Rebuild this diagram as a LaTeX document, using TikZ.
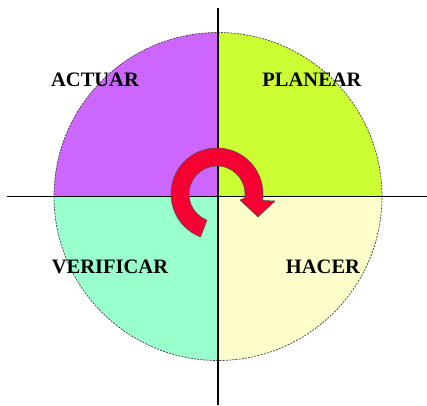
\documentclass[tikz,border=0pt]{standalone}
\usepackage{fontspec}
\setmainfont{Liberation Serif}
\usetikzlibrary{positioning}

\definecolor{actcol}{RGB}{204,102,255}
\definecolor{plancol}{RGB}{204,255,51}
\definecolor{vercol}{RGB}{153,255,204}
\definecolor{hacol}{RGB}{255,255,204}
\definecolor{arrowred}{RGB}{245,0,50}

\begin{document}
\begin{tikzpicture}[
    x=1pt, y=1pt,
    quad/.style={fill=#1},
    lbl/.style={font=\fontsize{20.5}{22}\selectfont\bfseries, text=black, inner sep=0pt},
    axis/.style={draw=black, line width=1.1pt},
    rim/.style={draw=black!75, dashed, dash pattern=on 2pt off 1.2pt, line width=0.7pt}
]
\useasboundingbox (-218,-208.5) rectangle (209,196.5);

% Quadrants
\fill[quad=actcol] (0,0) -- (180:164) arc[start angle=180, end angle=90, radius=164] -- cycle;
\fill[quad=plancol] (0,0) -- (90:164) arc[start angle=90, end angle=0, radius=164] -- cycle;
\fill[quad=hacol] (0,0) -- (0:164) arc[start angle=0, end angle=-90, radius=164] -- cycle;
\fill[quad=vercol] (0,0) -- (-90:164) arc[start angle=-90, end angle=-180, radius=164] -- cycle;
\draw[rim] (0,0) circle[radius=164];

% Axes
\coordinate (west) at (-211,0);
\coordinate (east) at (209,0);
\coordinate (north) at (0,188.5);
\coordinate (south) at (0,-208.5);
\draw[axis] (west) -- (east);
\draw[axis] (north) -- (south);

% Labels
\node[lbl] (actuar) at (-123,116.5) {ACTUAR};
\node[lbl] (planear) at (94,116.5) {PLANEAR};
\node[lbl] (verificar) at (-108,-70.5) {VERIFICAR};
\node[lbl] (hacer) at (105,-70.5) {HACER};

% Cycle arrow
\begin{scope}[shift={(-1,2.5)}]
\filldraw[fill=arrowred, draw=black!70, line width=0.5pt]
  (249:46) arc[start angle=249, end angle=-8, radius=46]
  -- (58,-7) -- (41,-23) -- (23,-6) -- (-8:28)
  arc[start angle=-8, end angle=249, radius=28] -- cycle;
\end{scope}
\end{tikzpicture}
\end{document}
